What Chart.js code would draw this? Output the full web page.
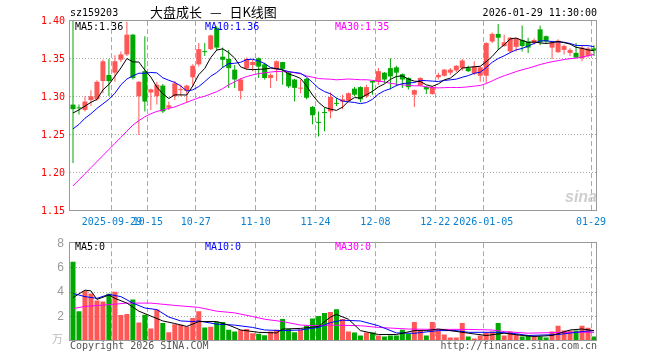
<!DOCTYPE html>
<html>
<head>
<meta charset="utf-8">
<script src="https://cdn.jsdelivr.net/npm/chart.js@4.4.1/dist/chart.umd.min.js"></script>
<style>
  body { margin:0; width:660px; height:360px; background:#fff; position:relative; overflow:hidden;
         font-family:"DejaVu Sans Mono", monospace; font-size:10px; color:#000; }
  canvas { position:absolute; left:0; }
  .t { position:absolute; white-space:pre; line-height:1; }
</style>
</head>
<body>
<canvas id="kline" width="660" height="232" style="top:0"></canvas>
<canvas id="vol" width="660" height="130" style="top:230px"></canvas>

<div class="t" style="left:70px;top:8px">sz159203</div>
<div class="t" style="left:150px;top:5px;font-family:'Noto Sans CJK SC';font-size:13px;word-spacing:5px">大盘成长 — 日K线图</div>
<div class="t" style="right:63px;top:8px">2026-01-29 11:30:00</div>
<div class="t" style="left:75px;top:22px">MA5:1.36</div>
<div class="t" style="left:205px;top:22px;color:#0000ff">MA10:1.36</div>
<div class="t" style="left:335px;top:22px;color:#ff00ff">MA30:1.35</div>
<div class="t" style="left:565px;top:189px;font-family:'Liberation Sans';font-style:italic;font-weight:bold;font-size:16px;color:#cfcfcf">sina</div>
<div class="t" style="left:75px;top:242px">MA5:0</div>
<div class="t" style="left:205px;top:242px;color:#0000ff">MA10:0</div>
<div class="t" style="left:335px;top:242px;color:#ff00ff">MA30:0</div>
<div class="t" style="left:52px;top:333px;font-family:'Noto Sans CJK SC';font-size:11px;color:#bbb">万</div>
<div class="t" style="left:70px;top:341px;color:#555">Copyright 2026 SINA.COM</div>
<div class="t" style="right:63px;top:341px;color:#555">http://finance.sina.com.cn</div>

<script>
// daily candles, 2025-09-18 .. 2026-01-29 (88 sessions)
const opens = [1.290,1.286,1.283,1.296,1.297,1.321,1.329,1.332,1.349,1.356,
  1.382,1.301,1.334,1.306,1.301,1.315,1.286,1.301,1.309,1.308,
  1.326,1.343,1.360,1.363,1.391,1.353,1.350,1.336,1.308,1.338,
  1.342,1.351,1.343,1.325,1.336,1.346,1.332,1.323,1.311,1.324,
  1.287,1.267,1.280,1.281,1.292,1.294,1.295,1.311,1.313,1.301,
  1.321,1.320,1.332,1.338,1.339,1.330,1.325,1.303,1.315,1.313,
  1.304,1.326,1.328,1.332,1.335,1.338,1.338,1.331,1.328,1.328,
  1.373,1.383,1.367,1.360,1.366,1.375,1.373,1.371,1.389,1.380,
  1.365,1.359,1.362,1.358,1.358,1.351,1.354,1.364];
const highs = [1.400,1.290,1.301,1.309,1.322,1.349,1.350,1.355,1.360,1.399,
  1.383,1.321,1.380,1.311,1.320,1.317,1.294,1.321,1.316,1.316,
  1.343,1.371,1.371,1.382,1.393,1.365,1.362,1.342,1.325,1.352,
  1.349,1.352,1.345,1.331,1.348,1.346,1.334,1.324,1.323,1.325,
  1.288,1.281,1.286,1.306,1.299,1.303,1.306,1.313,1.314,1.316,
  1.322,1.338,1.333,1.351,1.341,1.331,1.326,1.310,1.326,1.314,
  1.314,1.332,1.337,1.338,1.342,1.350,1.341,1.347,1.340,1.372,
  1.385,1.396,1.382,1.379,1.378,1.394,1.378,1.377,1.394,1.381,
  1.374,1.376,1.369,1.364,1.371,1.367,1.366,1.368];
const lows = [1.213,1.277,1.281,1.288,1.295,1.305,1.301,1.320,1.346,1.354,
  1.323,1.250,1.281,1.283,1.290,1.279,1.283,1.296,1.301,1.292,
  1.313,1.340,1.354,1.362,1.361,1.338,1.312,1.312,1.297,1.336,
  1.334,1.325,1.323,1.312,1.321,1.316,1.312,1.294,1.305,1.297,
  1.264,1.248,1.255,1.272,1.288,1.284,1.293,1.301,1.293,1.299,
  1.303,1.316,1.318,1.310,1.314,1.312,1.310,1.287,1.314,1.304,
  1.303,1.323,1.327,1.329,1.333,1.335,1.333,1.329,1.320,1.318,
  1.371,1.362,1.366,1.359,1.360,1.360,1.358,1.369,1.368,1.371,
  1.350,1.358,1.356,1.354,1.351,1.347,1.352,1.354];
const closes = [1.284,1.285,1.294,1.301,1.320,1.347,1.321,1.347,1.356,1.382,
  1.325,1.320,1.294,1.310,1.316,1.281,1.289,1.318,1.310,1.315,
  1.341,1.363,1.359,1.381,1.365,1.349,1.338,1.323,1.323,1.350,
  1.346,1.340,1.325,1.329,1.347,1.337,1.314,1.312,1.312,1.299,
  1.276,1.266,1.279,1.300,1.291,1.297,1.305,1.303,1.297,1.313,
  1.319,1.334,1.323,1.327,1.332,1.323,1.313,1.309,1.325,1.310,
  1.313,1.329,1.336,1.336,1.341,1.348,1.334,1.340,1.339,1.371,
  1.383,1.378,1.372,1.378,1.377,1.367,1.365,1.375,1.372,1.373,
  1.372,1.374,1.367,1.362,1.352,1.365,1.364,1.361];

const ma5 = [1.279,1.283,1.288,1.293,1.2968,1.3094,1.3166,1.3272,1.3382,1.3506,
  1.3462,1.346,1.3354,1.3262,1.313,1.3042,1.298,1.3028,1.3028,1.3026,
  1.3146,1.3294,1.3376,1.3518,1.3618,1.3634,1.3584,1.3512,1.3396,1.3366,
  1.336,1.3364,1.3368,1.338,1.3374,1.3356,1.3304,1.3278,1.3244,1.3148,
  1.3026,1.293,1.2864,1.284,1.2824,1.2866,1.2944,1.2992,1.2986,1.303,
  1.3074,1.3132,1.3172,1.3232,1.327,1.3278,1.3236,1.3208,1.3204,1.316,
  1.314,1.3172,1.3226,1.3248,1.331,1.338,1.339,1.3398,1.3404,1.3464,
  1.3534,1.3622,1.3686,1.3764,1.3776,1.3744,1.3718,1.3724,1.3712,1.3704,
  1.3714,1.3732,1.3716,1.3696,1.3654,1.364,1.362,1.3608];
const ma10 = [1.258,1.264,1.272,1.278,1.285,1.291,1.297,1.305,1.316,1.3237,
  1.3278,1.3313,1.3313,1.3322,1.3318,1.3252,1.322,1.3191,1.3145,1.3078,
  1.3094,1.3137,1.3202,1.3273,1.3322,1.339,1.3439,1.3444,1.3457,1.3492,
  1.3497,1.3474,1.344,1.3388,1.337,1.3358,1.3334,1.3323,1.3312,1.3261,
  1.3191,1.3117,1.3071,1.3042,1.2986,1.2946,1.2937,1.2928,1.2913,1.2927,
  1.297,1.3038,1.3082,1.3109,1.315,1.3176,1.3184,1.319,1.3218,1.3215,
  1.3209,1.3204,1.3217,1.3226,1.3235,1.326,1.3281,1.3312,1.3326,1.3387,
  1.3457,1.3506,1.3542,1.3584,1.362,1.3639,1.367,1.3705,1.3738,1.374,
  1.3729,1.3725,1.372,1.3704,1.3679,1.3677,1.3676,1.3662];
const ma30 = [1.183,1.191,1.199,1.207,1.215,1.223,1.231,1.239,1.247,1.255,
  1.263,1.269,1.274,1.278,1.281,1.283,1.285,1.287,1.290,1.293,
  1.296,1.299,1.301,1.304,1.307,1.311,1.316,1.320,1.324,1.3269,
  1.329,1.3308,1.3318,1.3328,1.3337,1.3333,1.3331,1.3319,1.3305,1.3277,
  1.3261,1.3243,1.3238,1.3234,1.3226,1.3231,1.3237,1.3232,1.3227,1.3227,
  1.3219,1.321,1.3198,1.318,1.3169,1.316,1.3152,1.3147,1.3148,1.3134,
  1.3123,1.312,1.3123,1.3126,1.3124,1.3127,1.3134,1.3143,1.3152,1.3176,
  1.3212,1.3249,1.328,1.3306,1.3335,1.3358,1.3378,1.3402,1.3427,1.3447,
  1.3465,1.3478,1.3493,1.3505,1.3511,1.3525,1.3542,1.356];

// volume, 万
const volumes = [6.48,2.44,4.08,3.89,3.31,3.23,3.87,4.02,2.12,2.20,
  3.39,1.51,2.14,1.03,2.57,1.48,0.72,1.38,1.33,1.19,
  1.88,2.44,1.11,1.17,1.56,1.56,0.93,0.77,0.90,0.98,
  0.64,0.59,0.48,0.77,0.93,1.80,0.98,0.72,0.95,1.25,
  1.85,2.04,2.30,2.38,2.60,1.80,0.77,0.69,0.45,0.69,
  0.69,0.45,0.37,0.45,0.45,0.93,0.59,1.56,0.85,0.45,
  1.56,0.85,0.53,0.29,0.29,1.48,0.37,0.21,0.45,0.69,
  0.77,1.48,0.45,0.77,0.53,0.37,0.45,0.37,0.37,0.29,
  0.77,1.25,0.85,0.85,0.85,1.25,1.09,0.37];
// volume averages: [session index, value]
const volMa5 = [[0,3.55],[2,4.16],[3,4.10],[4,3.40],[6,3.76],[7,3.49],[9,3.10],[11,2.44],[13,2.04],[15,1.64],
  [17,1.43],[19,1.19],[21,1.59],[24,1.59],[26,1.30],[28,0.90],[31,0.71],[34,0.66],[35,0.98],[38,1.03],
  [41,1.19],[43,1.96],[44,2.17],[46,1.78],[48,0.85],[51,0.53],[54,0.53],[57,0.85],[59,0.85],[61,0.98],
  [63,0.85],[66,0.64],[69,0.45],[72,0.64],[75,0.45],[77,0.37],[80,0.45],[83,0.90],[85,0.98],[87,0.85]];
const volMa10 = [[0,3.89],[2,3.63],[4,3.49],[6,3.81],[8,3.63],[10,3.10],[12,2.70],[14,2.57],[16,1.96],[18,1.64],
  [20,1.59],[21,1.64],[24,1.38],[27,1.30],[30,1.11],[32,0.90],[35,0.85],[38,0.90],[41,1.11],[43,1.51],
  [45,1.70],[48,1.64],[51,1.25],[54,0.66],[57,0.63],[61,0.85],[64,0.85],[66,0.71],[71,0.71],[74,0.59],
  [76,0.45],[81,0.53],[85,0.77],[87,0.85]];
const volMa30 = [[0,2.65],[2,2.83],[6,2.97],[9,3.10],[13,3.10],[17,2.91],[21,2.75],[24,2.44],[27,2.30],[30,2.00],
  [32,1.78],[35,1.59],[38,1.30],[41,1.25],[43,1.30],[48,1.25],[51,1.11],[56,0.98],[60,0.95],[66,0.95],
  [70,0.90],[72,0.77],[76,0.64],[82,0.71],[87,0.71]];

const tickIndex = [7, 13, 21, 31, 41, 51, 61, 69, 87];
const tickDates = ["2025-09-29", "10-15", "10-27", "11-10", "11-24", "12-08", "12-22", "2026-01-05", "01-29"];
const priceTicks = [1.15, 1.20, 1.25, 1.30, 1.35, 1.40];
const volTicks = [0, 2, 4, 6, 8];

const N = closes.length;
const RED = "#ff5656";
const GREEN = "#00a800";
const candleColors = closes.map((c, i) => (c >= opens[i] ? RED : GREEN));
const monoFont = { family: "DejaVu Sans Mono", size: 10 };

// gray frame round the plot area
const boxPlugin = {
  id: "box",
  afterDraw(chart) {
    const { ctx, chartArea: a } = chart;
    ctx.save();
    ctx.strokeStyle = "#999";
    ctx.lineWidth = 1;
    ctx.strokeRect(Math.round(a.left) - 0.5, Math.round(a.top) - 0.5,
      Math.round(a.right - a.left), Math.round(a.bottom - a.top));
    ctx.restore();
  },
};

function xScale(showLabels, height) {
  return {
    type: "linear",
    min: -0.5,
    max: N - 0.5,
    offset: false,
    afterBuildTicks: (ax) => { ax.ticks = tickIndex.map((i) => ({ value: i - 0.5 })); },
    afterFit: (ax) => { ax.height = height; },
    ticks: {
      display: showLabels,
      autoSkip: false,
      maxRotation: 0,
      padding: 5,
      color: "#0a80d0",
      font: monoFont,
      callback: (v, idx) => tickDates[idx],
    },
    grid: { offset: false, color: "#aaa", drawTicks: false },
    border: { display: false, dash: [5, 3] },
  };
}

function maLine(values, color) {
  return {
    type: "line",
    data: values.map((v, i) => ({ x: i, y: v })),
    borderColor: color,
    borderWidth: 1,
    pointRadius: 0,
    tension: 0,
    order: 0,
  };
}

function ptsLine(points, color) {
  return {
    type: "line",
    data: points.map((p) => ({ x: p[0], y: p[1] })),
    borderColor: color,
    borderWidth: 1,
    pointRadius: 0,
    tension: 0,
    order: 0,
  };
}

const klineChart = new Chart(document.getElementById("kline"), {
  type: "bar",
  data: {
    datasets: [
      maLine(ma5, "#000000"),
      maLine(ma10, "#0000ff"),
      maLine(ma30, "#ff00ff"),
      {
        data: closes.map((c, i) => ({ x: i, y: [Math.min(opens[i], c), Math.max(opens[i], c)] })),
        backgroundColor: candleColors,
        barThickness: 5,
        minBarLength: 1,
        grouped: false,
        inflateAmount: 0,
        order: 1,
      },
      {
        data: lows.map((l, i) => ({ x: i, y: [l, highs[i]] })),
        backgroundColor: candleColors,
        barThickness: 1,
        grouped: false,
        inflateAmount: 0,
        order: 2,
      },
    ],
  },
  options: {
    responsive: false,
    animation: false,
    devicePixelRatio: 1,
    layout: { padding: { left: 0, right: 63, top: 21, bottom: 0 } },
    plugins: { legend: { display: false }, tooltip: { enabled: false } },
    scales: {
      x: xScale(true, 21),
      y: {
        min: 1.15,
        max: 1.40,
        beginAtZero: false,
        afterBuildTicks: (ax) => { ax.ticks = priceTicks.map((v) => ({ value: v })); },
        afterFit: (ax) => { ax.width = 70; },
        ticks: { color: "#ff0000", padding: 5, font: monoFont, callback: (v) => Number(v).toFixed(2) },
        grid: {
          drawTicks: false,
          color: (ctx) => (ctx.index === 0 || ctx.index === priceTicks.length - 1 ? "rgba(0,0,0,0)" : "#aaa"),
        },
        border: { display: false, dash: [1, 2] },
      },
    },
  },
  plugins: [boxPlugin],
});

const volChart = new Chart(document.getElementById("vol"), {
  type: "bar",
  data: {
    datasets: [
      ptsLine(volMa5, "#000000"),
      ptsLine(volMa10, "#0000ff"),
      ptsLine(volMa30, "#ff00ff"),
      {
        data: volumes.map((v, i) => ({ x: i, y: v })),
        backgroundColor: candleColors,
        barThickness: 5,
        grouped: false,
        inflateAmount: 0,
        order: 1,
      },
    ],
  },
  options: {
    responsive: false,
    animation: false,
    devicePixelRatio: 1,
    layout: { padding: { left: 0, right: 63, top: 10, bottom: 0 } },
    plugins: { legend: { display: false }, tooltip: { enabled: false } },
    scales: {
      x: xScale(false, 19),
      y: {
        min: 0,
        max: 8,
        afterBuildTicks: (ax) => { ax.ticks = volTicks.map((v) => ({ value: v })); },
        afterFit: (ax) => { ax.width = 70; },
        ticks: {
          color: "#999",
          padding: 6,
          font: { family: "Liberation Sans", size: 12 },
          callback: (v) => (v === 0 ? "" : String(v)),
        },
        grid: {
          drawTicks: false,
          color: (ctx) => (ctx.index === 0 || ctx.index === volTicks.length - 1 ? "rgba(0,0,0,0)" : "#aaa"),
        },
        border: { display: false, dash: [1, 2] },
      },
    },
  },
  plugins: [boxPlugin],
});
</script>
</body>
</html>
